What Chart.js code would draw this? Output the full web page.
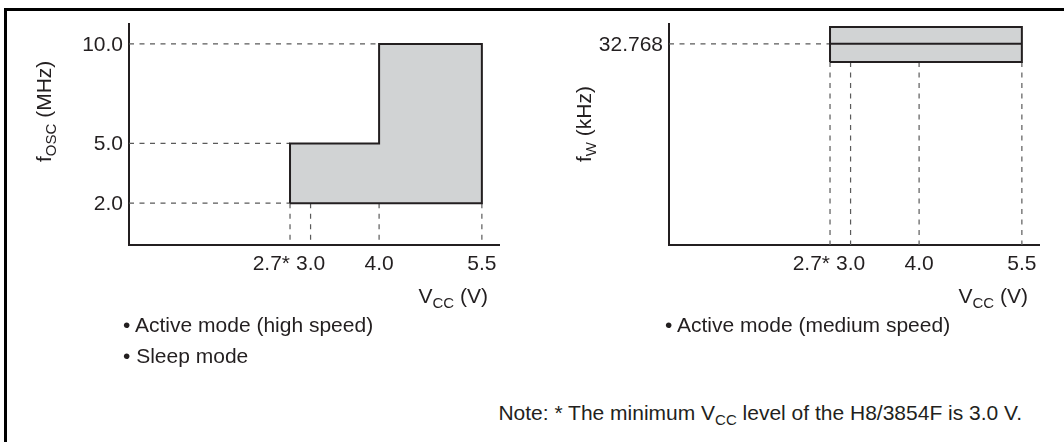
<!DOCTYPE html>
<html>
<head>
<meta charset="utf-8">
<script src="https://cdn.jsdelivr.net/npm/chart.js@4.4.1/dist/chart.umd.min.js"></script>
<style>
  html, body { margin: 0; padding: 0; background: #fff; }
  body { width: 1064px; height: 442px; position: relative; overflow: hidden;
         font-family: "Liberation Sans", Arial, Helvetica, sans-serif; color: #231f20; }
  .frame { position: absolute; left: 4px; top: 8px; width: 1080px; height: 460px;
           border-top: 3px solid #000; border-left: 3px solid #000; }
  canvas { position: absolute; top: 0; }
  #oscChart { left: 0; }
  #subChart { left: 540px; }
  .txt { position: absolute; font-size: 21px; line-height: 24px; white-space: nowrap; }
  .sub { font-size: 15px; position: relative; top: 5px; }
</style>
</head>
<body>
<div class="frame"></div>
<canvas id="oscChart" width="532" height="320"></canvas>
<canvas id="subChart" width="532" height="320"></canvas>
<div class="txt" style="left:123px; top:313px;">• Active mode (high speed)</div>
<div class="txt" style="left:123px; top:344px;">• Sleep mode</div>
<div class="txt" style="left:665px; top:313px;">• Active mode (medium speed)</div>
<div class="txt" style="right:42px; top:401px;">Note: * The minimum V<span class="sub">CC</span> level of the H8/3854F is 3.0 V.</div>

<script>
// Tick values
const voltTicks = [2.7, 3.0, 4.0, 5.5];
const starredVolt = 2.7;
const oscTicks = [2.0, 5.0, 10.0];
const subTicks = [32.768];

// Operating area, high speed / sleep (V, MHz)
const oscAreaV = [2.7, 2.7, 4.0, 4.0, 5.5, 5.5, 2.7];
const oscAreaF = [2.0, 5.0, 5.0, 10.0, 10.0, 2.0, 2.0];
const oscGuideEnd = [2.7, 2.7, 4.0];   // where each horizontal guide meets the area

// Operating band, medium speed (V, kHz)
const subAreaV = [2.7, 2.7, 5.5, 5.5, 2.7];
const subAreaF = [29.8, 35.5, 35.5, 29.8, 29.8];
const subGuideEnd = [2.7];

// Axis ranges
const xRange = [0.35, 5.75];
const oscRange = [-0.1, 11];
const subRange = [0, 36];

const ink = '#231f20';
const areaFill = '#d1d3d4';
const guideColor = '#5a5a5a';
const fontFamily = '"Liberation Sans", Arial, Helvetica, sans-serif';

const vccTitle = [['V', false], ['CC', true], [' (V)', false]];

function richWidth(ctx, parts) {
    let w = 0;
    parts.forEach(([t, sub]) => {
        ctx.font = (sub ? 15 : 21) + 'px ' + fontFamily;
        w += ctx.measureText(t).width;
    });
    return w;
}

function drawRich(ctx, parts, x, y) {
    let cx = x;
    parts.forEach(([t, sub]) => {
        ctx.font = (sub ? 15 : 21) + 'px ' + fontFamily;
        ctx.fillText(t, cx, y + (sub ? 5 : 0));
        cx += ctx.measureText(t).width;
    });
}

// Tick labels and axis titles (with subscripts)
const axisText = {
    id: 'axisText',
    afterDraw(chart, args, o) {
        const { ctx, chartArea: area, scales: { x, y } } = chart;
        ctx.save();
        ctx.fillStyle = ink;
        ctx.font = '21px ' + fontFamily;
        ctx.textBaseline = 'alphabetic';

        voltTicks.forEach(v => {
            const px = x.getPixelForValue(v);
            if (v === starredVolt) {
                ctx.textAlign = 'right';
                ctx.fillText(v.toFixed(1) + '*', px, area.bottom + 25);
            } else {
                ctx.textAlign = 'center';
                ctx.fillText(v.toFixed(1), px, area.bottom + 25);
            }
        });

        ctx.textAlign = 'right';
        o.ticks.forEach(f => {
            ctx.fillText(f.toFixed(o.decimals), area.left - 6, y.getPixelForValue(f) + 7);
        });

        ctx.textAlign = 'left';
        const w = richWidth(ctx, vccTitle);
        drawRich(ctx, vccTitle, area.right - 11 - w, area.bottom + 58);

        ctx.translate(area.left - 78, area.top + 138);
        ctx.rotate(-Math.PI / 2);
        drawRich(ctx, o.title, 0, 0);
        ctx.restore();
    }
};

function guide(points) {
    return {
        data: points,
        borderColor: guideColor,
        borderWidth: 1.2,
        borderDash: [5, 5.5],
        pointRadius: 0,
        fill: false
    };
}

function buildDatasets(areaV, areaF, hTicks, hEnds, yMin) {
    const sets = [];
    sets.push({
        data: areaV.map((v, i) => ({ x: v, y: areaF[i] })),
        borderColor: ink,
        borderWidth: 2,
        backgroundColor: areaFill,
        fill: 'shape',
        pointRadius: 0
    });
    const base = Math.min(...areaF);
    hTicks.forEach((f, i) => {
        sets.push(guide([{ x: xRange[0], y: f }, { x: hEnds[i], y: f }]));
    });
    voltTicks.forEach(v => {
        sets.push(guide([{ x: v, y: base }, { x: v, y: yMin }]));
    });
    return sets;
}

function makeChart(id, datasets, yRange, textOpts) {
    return new Chart(document.getElementById(id), {
        type: 'line',
        data: { datasets: datasets },
        options: {
            responsive: false,
            animation: false,
            layout: { padding: { left: 129, right: 33, top: 24, bottom: 75 } },
            plugins: {
                legend: { display: false },
                tooltip: { enabled: false },
                axisText: textOpts
            },
            scales: {
                x: {
                    type: 'linear',
                    min: xRange[0],
                    max: xRange[1],
                    grid: { display: false, drawTicks: false },
                    ticks: { display: false },
                    border: { display: true, color: ink, width: 2 }
                },
                y: {
                    type: 'linear',
                    min: yRange[0],
                    max: yRange[1],
                    grid: { display: false, drawTicks: false },
                    ticks: { display: false },
                    border: { display: true, color: ink, width: 2 }
                }
            }
        },
        plugins: [axisText]
    });
}

// Left chart: system clock
const oscSets = buildDatasets(oscAreaV, oscAreaF, oscTicks, oscGuideEnd, oscRange[0]);
makeChart('oscChart', oscSets, oscRange, {
    ticks: oscTicks,
    decimals: 1,
    title: [['f', false], ['OSC', true], [' (MHz)', false]]
});

// Right chart: watch clock, centre line goes first so it is drawn over the band
const subSets = buildDatasets(subAreaV, subAreaF, subTicks, subGuideEnd, subRange[0]);
subSets.unshift({
    data: [
        { x: Math.min(...subAreaV), y: subTicks[0] },
        { x: Math.max(...subAreaV), y: subTicks[0] }
    ],
    borderColor: ink,
    borderWidth: 2,
    pointRadius: 0,
    fill: false
});
makeChart('subChart', subSets, subRange, {
    ticks: subTicks,
    decimals: 3,
    title: [['f', false], ['W', true], [' (kHz)', false]]
});
</script>
</body>
</html>
